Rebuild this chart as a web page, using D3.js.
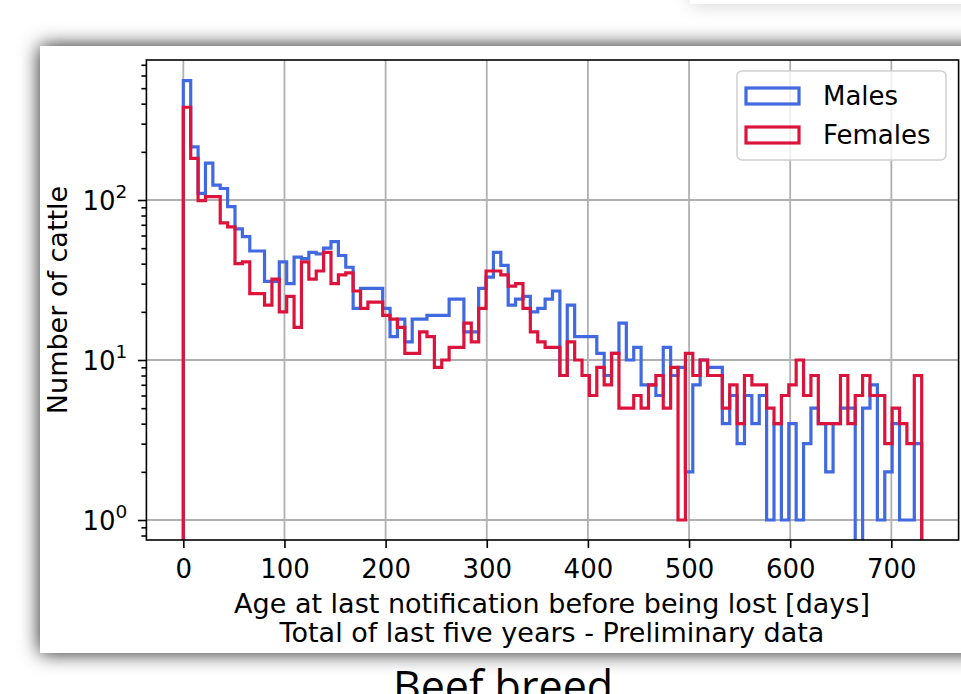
<!DOCTYPE html>
<html lang="en">
<head>
<meta charset="utf-8">
<title>Beef breed - age at last notification</title>
<script src="https://cdn.jsdelivr.net/npm/d3@7/dist/d3.min.js"></script>
<style>
  body { margin: 0; background: #fff; }
  svg { display: block; }
  .tick text { font-family: "DejaVu Sans", sans-serif; font-size: 26px; fill: #000; }
  .label { font-family: "DejaVu Sans", sans-serif; font-size: 27px; fill: #000; }
  .ticklab { font-family: "DejaVu Sans", sans-serif; font-size: 26px; fill: #000; }
</style>
</head>
<body>
<script>
// histogram: 100 bins over 0..730 days
const binWidth = 7.3
const males = [557, 215, 110, 170, 124, 118, 91, 66, 59, 48,
               48, 31, 31, 41, 30, 44, 43, 47, 46, 50,
               55, 45, 38, 21, 28, 28, 28, 21, 14, 18,
               13, 18, 18, 19, 19, 19, 24, 24, 15, 15,
               28, 33, 47, 39, 22, 24, 25, 20, 21, 24,
               27, 8, 22, 14, 14, 14, 11, 8, 11, 17,
               10, 12, 7, 7, 6, 12, 8, 9, 2, 7,
               10, 9, 9, 4, 6, 3, 6, 4, 6, 1,
               4, 1, 4, 1, 3, 5, 4, 2, 4, 5,
               5, 0, 5, 7, 1, 2, 4, 1, 1, 3]
const females = [380, 182, 99, 105, 105, 72, 68, 40, 41, 26,
                 26, 22, 32, 20, 25, 16, 41, 32, 36, 47,
                 30, 34, 35, 27, 21, 23, 23, 19, 18, 16,
                 11, 11, 15, 14, 9, 10, 12, 12, 17, 13,
                 21, 36, 36, 34, 29, 30, 21, 15, 13, 12,
                 12, 8, 13, 10, 8, 6, 9, 7, 11, 5,
                 5, 6, 5, 7, 8, 5, 9, 1, 11, 8,
                 10, 8, 8, 5, 7, 4, 8, 7, 7, 5,
                 4, 6, 7, 10, 6, 8, 4, 4, 4, 8,
                 4, 6, 8, 6, 6, 3, 5, 4, 3, 8]
const series = ["Males", "Females"]
const colors = ["#4169e1", "#dc143c"]
const xTicks = [0, 100, 200, 300, 400, 500, 600, 700]
const yTicks = [1, 10, 100]
const yTickExp = ["0", "1", "2"]

const w = 961
const h = 694
const pLeft = 146.4, pRight = 958.6, pTop = 60, pBottom = 540

const svg = d3.select("body").append("svg")
    .attr("width", w)
    .attr("height", h)

const defs = svg.append("defs")
const shadow = defs.append("filter").attr("id", "shadow")
    .attr("x", "-10%").attr("y", "-20%").attr("width", "120%").attr("height", "140%")
shadow.append("feDropShadow")
    .attr("dx", 0).attr("dy", 0).attr("stdDeviation", 10)
    .attr("flood-color", "#000").attr("flood-opacity", 0.9)
defs.append("clipPath").attr("id", "plotclip")
    .append("rect")
    .attr("x", pLeft).attr("y", pTop)
    .attr("width", pRight - pLeft).attr("height", pBottom - pTop)

// card behind, top right, and the main card
svg.append("rect")
    .attr("x", 690).attr("y", -120).attr("width", 400).attr("height", 124)
    .attr("fill", "#fff").attr("filter", "url(#shadow)").attr("opacity", 0.2)
svg.append("rect")
    .attr("x", 40).attr("y", 46).attr("width", 960).attr("height", 607)
    .attr("fill", "#fff").attr("filter", "url(#shadow)")

const x = d3.scaleLinear().domain([-36.5, 766.5]).range([pLeft, pRight])
const y = d3.scaleLog().domain([0.75, 750]).range([pBottom, pTop])

// grid
const grid = svg.append("g")
grid.selectAll(".gx").data(xTicks).enter().append("line")
    .attr("x1", d => x(d)).attr("x2", d => x(d))
    .attr("y1", pTop).attr("y2", pBottom)
    .attr("stroke", "#b0b0b0").attr("stroke-width", 1.8)
grid.selectAll(".gy").data(yTicks).enter().append("line")
    .attr("x1", pLeft).attr("x2", pRight)
    .attr("y1", d => y(d)).attr("y2", d => y(d))
    .attr("stroke", "#b0b0b0").attr("stroke-width", 1.8)

// step histograms
const yv = v => v > 0 ? y(v) : pBottom + 20
function stepPoints(values) {
    const pts = [[x(0), pBottom + 20]]
    values.forEach((v, i) => {
        pts.push([x(i * binWidth), yv(v)])
        pts.push([x((i + 1) * binWidth), yv(v)])
    })
    pts.push([x(values.length * binWidth), pBottom + 20])
    return pts
}
const line = d3.line()
const plot = svg.append("g").attr("clip-path", "url(#plotclip)")
;[males, females].forEach((vals, k) => {
    plot.append("path")
        .attr("d", line(stepPoints(vals)))
        .attr("fill", "none")
        .attr("stroke", colors[k])
        .attr("stroke-width", 3.2)
        .attr("stroke-linejoin", "miter")
})

// axes
const xAxis = d3.axisBottom(x).tickValues(xTicks).tickSize(8).tickPadding(12)
const gx = svg.append("g")
    .attr("transform", `translate(0, ${pBottom})`)
    .call(xAxis)
gx.select(".domain").remove()

const minor = []
;[0.1, 1, 10, 100].forEach(p => d3.range(2, 10).forEach(m => minor.push(p * m)))
const minorTicks = minor.filter(v => v >= 0.75 && v <= 750)
const gyMinor = svg.append("g")
    .attr("transform", `translate(${pLeft}, 0)`)
    .call(d3.axisLeft(y).tickValues(minorTicks).tickSize(5).tickFormat(""))
gyMinor.select(".domain").remove()
const gy = svg.append("g")
    .attr("transform", `translate(${pLeft}, 0)`)
    .call(d3.axisLeft(y).tickValues(yTicks).tickSize(8.5).tickFormat(""))
gy.select(".domain").remove()
svg.selectAll(".tick line").attr("stroke", "#000").attr("stroke-width", 1.6)

const ylab = svg.append("g")
yTicks.forEach((v, i) => {
    const t = ylab.append("text").attr("class", "ticklab")
        .attr("x", pLeft - 19).attr("y", y(v) + 10)
        .attr("text-anchor", "end")
    t.append("tspan").text("10")
    t.append("tspan").text(yTickExp[i])
        .attr("dy", -12).attr("font-size", 18.5)
})

svg.append("rect")
    .attr("x", pLeft).attr("y", pTop)
    .attr("width", pRight - pLeft).attr("height", pBottom - pTop)
    .attr("fill", "none").attr("stroke", "#000").attr("stroke-width", 1.6)

// labels
svg.append("text").attr("class", "label")
    .attr("transform", `translate(67, ${(pTop + pBottom) / 2}) rotate(-90)`)
    .attr("text-anchor", "middle")
    .text("Number of cattle")
svg.append("text").attr("class", "label")
    .attr("x", 552).attr("y", 613)
    .attr("text-anchor", "middle")
    .text("Age at last notification before being lost [days]")
svg.append("text").attr("class", "label")
    .attr("x", 552).attr("y", 642)
    .attr("text-anchor", "middle")
    .text("Total of last five years - Preliminary data")

// legend
const lg = svg.append("g").attr("transform", "translate(737, 71)")
lg.append("rect")
    .attr("width", 209).attr("height", 89).attr("rx", 5)
    .attr("fill", "#fff").attr("fill-opacity", 0.8)
    .attr("stroke", "#d0d0d0").attr("stroke-width", 1.5)
series.forEach((s, i) => {
    lg.append("rect")
        .attr("x", 9).attr("y", 17 + i * 39)
        .attr("width", 53).attr("height", 16)
        .attr("fill", "none").attr("stroke", colors[i]).attr("stroke-width", 3.2)
    lg.append("text").attr("class", "ticklab")
        .attr("x", 86).attr("y", 34 + i * 39)
        .text(s)
})

// caption below the figure
svg.append("text")
    .attr("x", 503).attr("y", 702)
    .attr("text-anchor", "middle")
    .attr("font-family", "Open Sans, sans-serif")
    .attr("font-size", 43)
    .attr("fill", "#000")
    .text("Beef breed")
</script>
</body>
</html>
